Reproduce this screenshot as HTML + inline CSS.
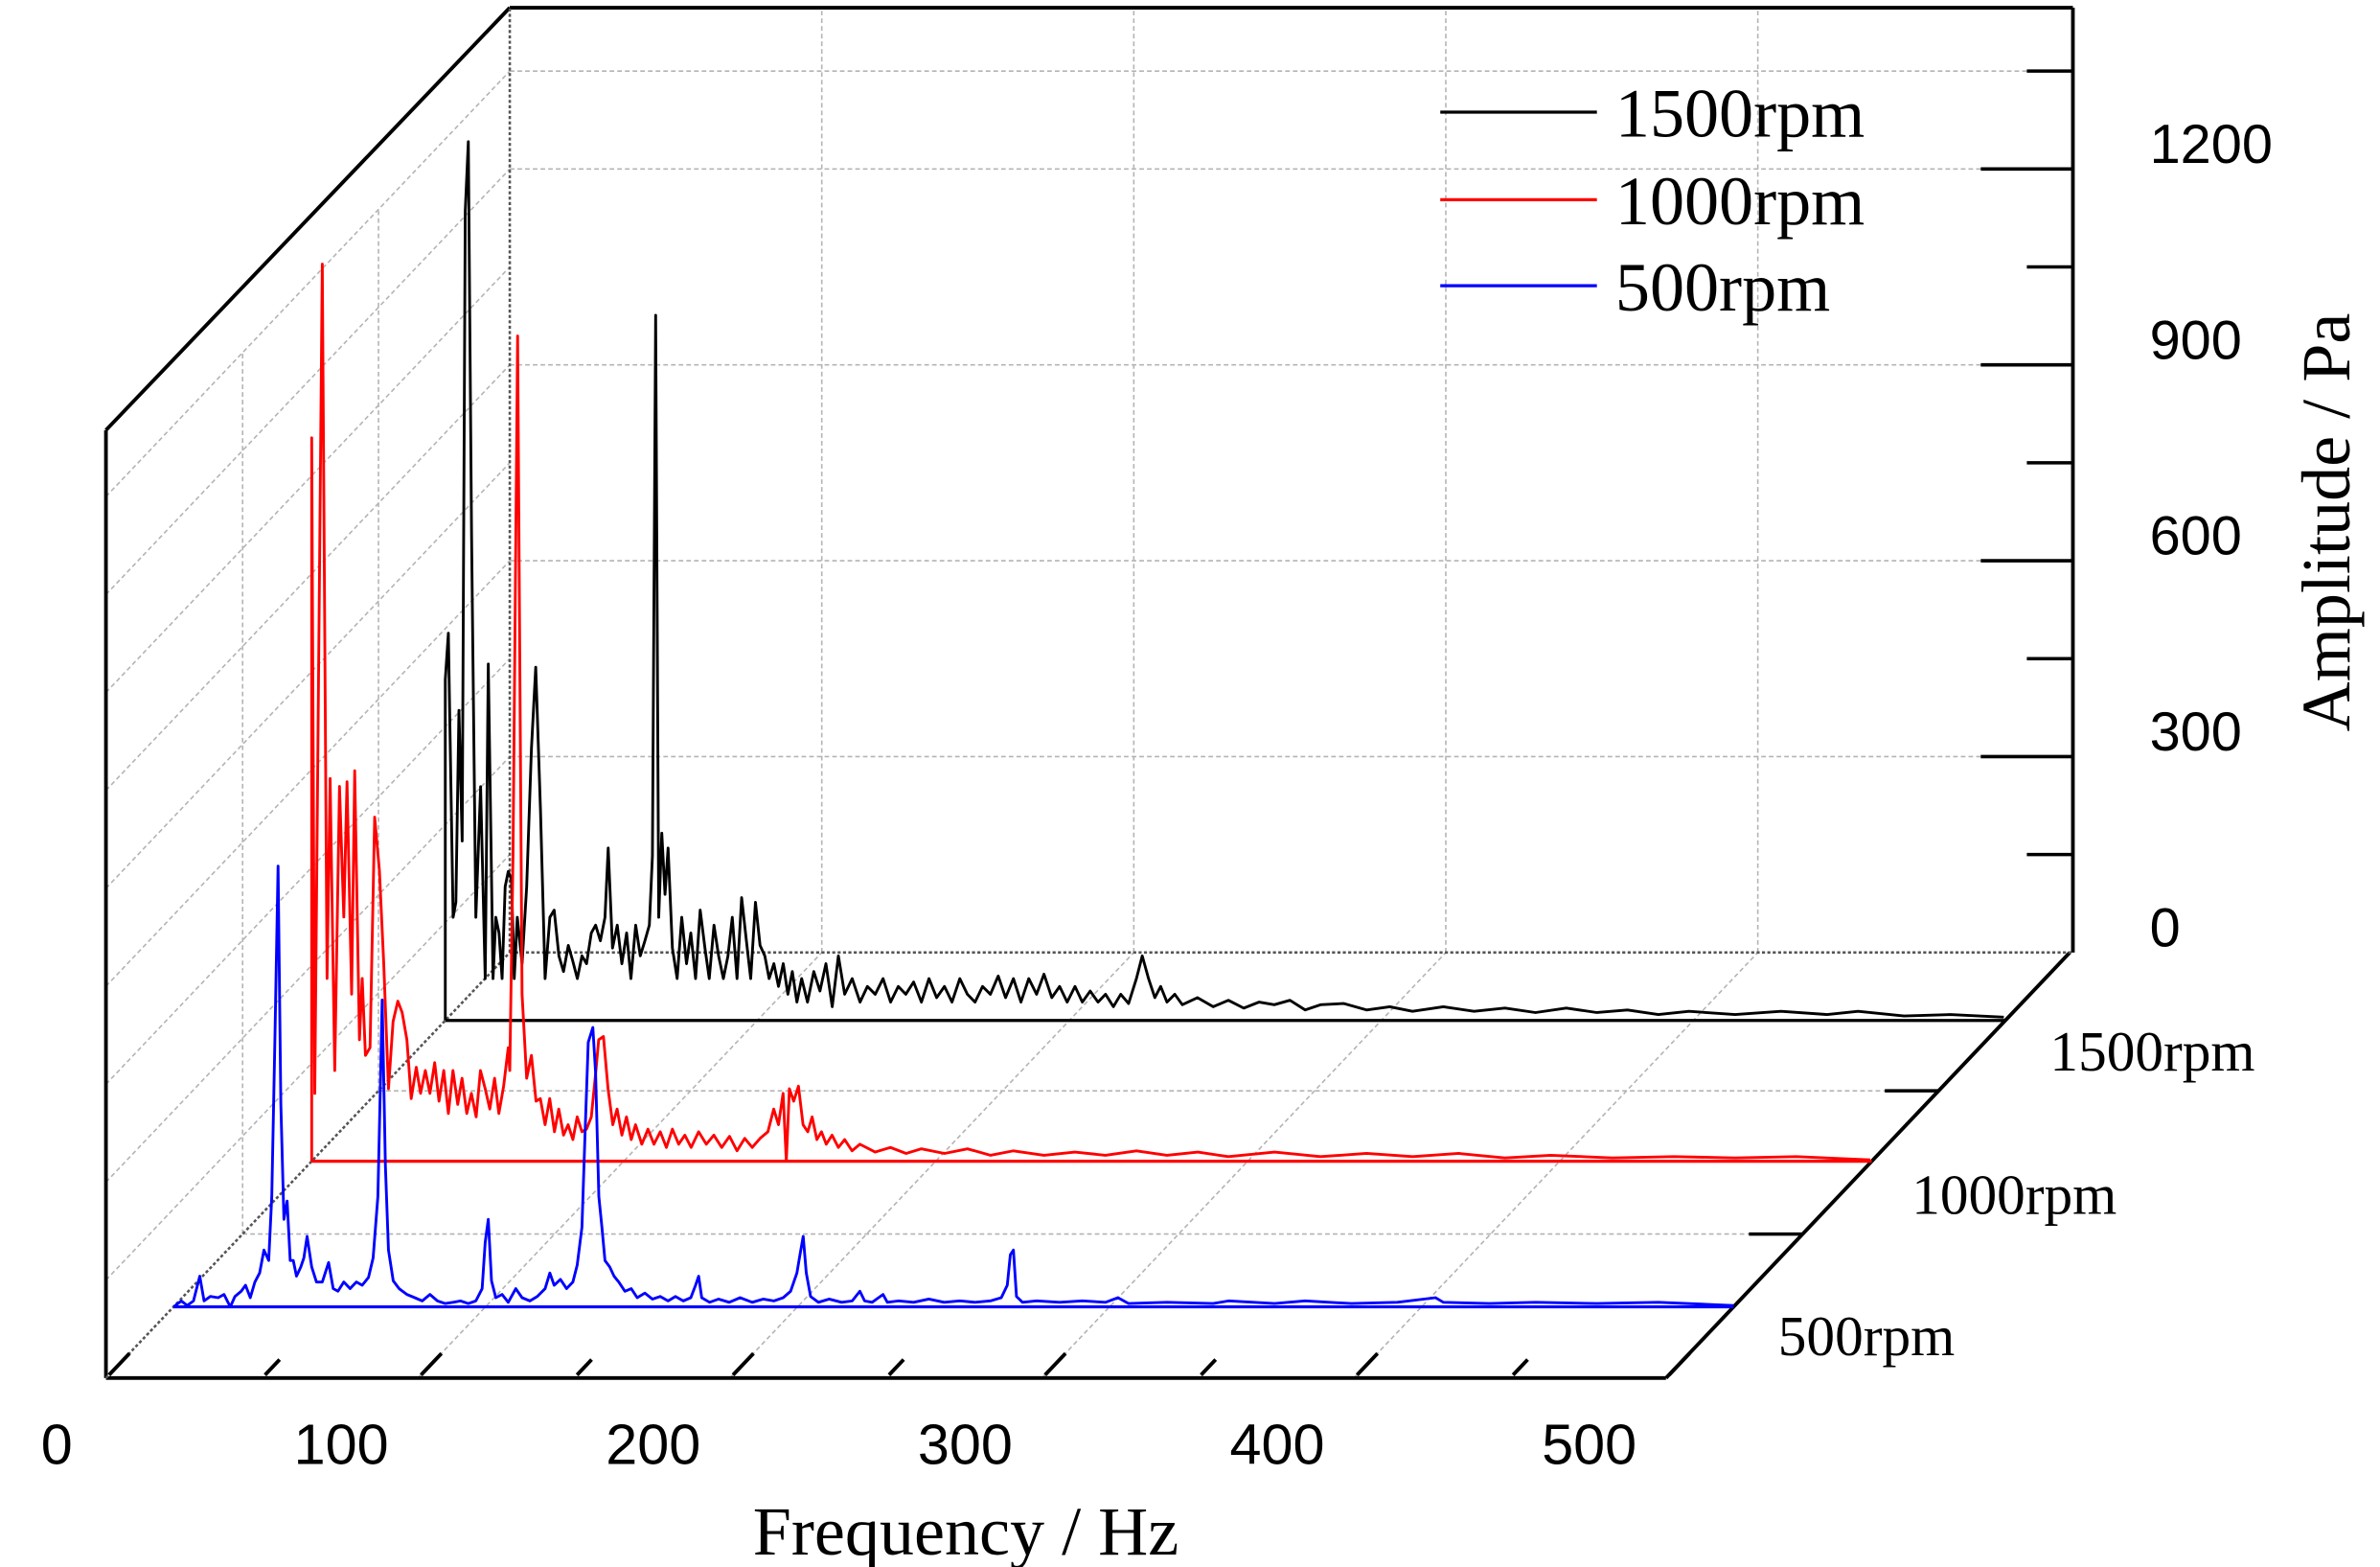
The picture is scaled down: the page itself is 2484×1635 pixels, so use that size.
<!DOCTYPE html>
<html><head><meta charset="utf-8"><style>
html,body{margin:0;padding:0;background:#fff;}
svg{display:block;}
.serif{font-family:"Liberation Serif",serif;}
.sans{font-family:"Liberation Sans",sans-serif;}
</style></head><body>
<svg id="chart" width="2484" height="1635" viewBox="0 0 1550 1020" preserveAspectRatio="none" xmlns="http://www.w3.org/2000/svg">
<g id="grid"></g>
<g id="frame"></g>
<g id="series"></g>
<g id="labels"></g>
<g>
  <line x1="938" y1="73" x2="1040" y2="73" stroke="#000" stroke-width="2"/>
  <text class="serif" x="1052" y="89" font-size="45">1500rpm</text>
  <line x1="938" y1="130" x2="1040" y2="130" stroke="#f00" stroke-width="2"/>
  <text class="serif" x="1052" y="146" font-size="45">1000rpm</text>
  <line x1="938" y1="186" x2="1040" y2="186" stroke="#00f" stroke-width="2"/>
  <text class="serif" x="1052" y="202" font-size="45">500rpm</text>
</g>
<text class="serif" x="629" y="1012" font-size="45" text-anchor="middle">Frequency / Hz</text>
<text class="serif" transform="translate(1530,340) rotate(-90)" font-size="45" text-anchor="middle">Amplitude / Pa</text>
</svg>
<script>
// ---- data ----
const xTickLabels = ["0","100","200","300","400","500"];
const yTickLabels = ["0","300","600","900","1200"];
const yTickValues = [0,300,600,900,1200];
const depthLabels = ["500rpm","1000rpm","1500rpm"];
const seriesColors = ["#00f","#f00","#000"];

const freq500 = [0,0,2.5,4.4,6.4,8.4,9.8,11.8,14.3,16.2,18.2,19.7,21.7,23.1,24.6,26.1,27.6,29.0,30.5,31.5,32.5,33.5,34.4,35.4,36.4,37.4,38.4,39.4,40.8,41.8,42.8,44.3,45.8,47.7,49.7,51.2,52.7,54.6,56.6,58.6,60.5,62.5,64.0,65.5,66.4,66.9,67.9,68.9,70.4,72.3,74.8,77.3,79.7,82.2,84.6,87.1,89.6,92.0,94.5,96.9,98.9,99.9,100.9,101.9,103.3,105.3,107.3,109.7,111.7,114.2,116.6,119.1,120.6,122.0,124.0,126.0,128.0,129.4,130.9,131.9,132.9,134.4,135.3,136.3,137.3,138.3,139.8,141.2,142.7,144.7,146.7,148.6,151.1,153.5,156.0,158.5,160.9,163.4,165.8,167.3,168.3,169.3,171.8,174.7,178.1,181.6,185.5,189.0,192.4,195.4,197.8,199.8,200.8,201.8,202.8,204.2,206.7,210.1,214.1,217.5,220.0,221.5,223.9,227.4,228.8,232.3,237.2,242.1,247.0,252.0,256.9,261.8,265.3,267.2,268.2,269.2,270.2,272.1,276.6,284.0,291.3,298.7,302.7,306.1,318.4,333.2,338.1,352.9,362.7,377.5,392.2,404.5,407.0,421.8,436.5,456.2,475.9,500];
const amp500 = [0,0,9,2,9,47,9,16,14,19,0,16,24,33,14,38,52,87,71,169,405,675,311,134,162,71,71,47,61,75,108,61,38,38,68,28,24,38,28,38,33,45,75,169,358,470,216,87,40,28,19,14,9,19,9,5,7,9,5,9,28,99,134,40,14,19,7,28,14,9,16,28,52,33,42,28,38,64,122,264,405,428,358,169,122,71,61,47,38,24,28,14,21,12,16,9,16,9,14,33,47,14,7,12,7,14,7,12,9,14,24,52,80,108,52,16,7,12,7,9,24,9,7,19,7,9,7,12,7,9,7,9,14,33,80,87,16,7,9,7,9,7,14,5,7,5,9,5,9,5,7,14,7,5,7,5,7,2];

const freq1000 = [0,0,1.0,3.4,4.9,5.9,7.4,8.9,10.3,11.3,12.8,13.8,15.3,16.2,17.2,18.7,20.2,21.7,23.1,24.6,26.1,27.6,29.0,30.5,31.9,33.5,34.9,36.4,37.9,39.4,40.8,42.3,43.8,45.3,46.8,48.2,49.7,51.2,52.7,54.1,55.6,57.1,58.6,60.0,61.5,63.0,63.5,64.5,66.0,67.4,68.9,70.4,71.9,73.3,74.8,76.3,77.8,79.2,80.7,82.2,83.7,85.1,86.6,88.1,89.6,91.1,92.0,93.5,95.0,96.5,97.9,99.4,100.9,102.4,103.8,105.8,107.8,109.7,111.7,113.7,115.6,117.6,119.6,121.6,124.0,126.5,128.9,131.4,133.9,136.3,138.8,141.2,143.7,146.2,148.1,149.6,151.1,152.1,153.1,154.5,156.0,157.5,159.0,160.4,161.9,163.4,164.9,166.8,168.8,170.8,173.2,175.7,180.6,185.5,190.5,195.4,202.8,210.2,217.5,224.9,234.7,244.6,254.4,264.3,274.1,284.0,293.8,308.6,323.3,338.1,352.9,367.6,382.4,397.1,416.8,436.5,456.2,475.9,499.5];
const amp1000 = [0,1108,104,1374,280,586,139,574,374,581,256,598,186,280,162,174,527,445,304,111,214,245,228,186,96,144,104,139,104,151,92,139,73,139,87,127,73,104,68,139,111,80,127,73,115,174,139,468,1264,256,127,162,92,96,56,96,45,80,40,56,33,68,45,49,68,139,186,191,111,56,80,40,68,33,56,26,49,26,45,21,49,26,40,21,45,26,40,21,38,16,35,21,35,45,80,56,104,0,111,92,115,56,45,68,33,45,26,40,21,33,16,26,14,21,12,19,12,19,9,16,9,14,9,16,9,14,7,14,7,12,7,12,5,9,5,7,5,7,2];

const freq1500 = [0,0,1.0,2.5,3.4,4.4,5.4,6.4,7.4,8.4,9.8,11.3,12.8,13.8,15.3,16.2,17.2,18.2,19.2,20.2,21.2,22.1,23.1,24.6,26.1,27.6,29.0,30.5,32.0,33.5,34.9,36.4,37.9,39.4,40.8,42.3,43.8,45.3,46.8,48.2,49.7,51.2,52.2,53.6,55.1,56.6,58.1,59.5,61.0,62.5,64.0,65.4,66.4,67.4,68.4,69.4,70.4,71.4,72.8,74.3,75.8,77.3,78.7,80.2,81.7,83.2,84.6,86.1,87.6,89.1,90.6,92.0,93.5,95.0,96.5,97.9,99.4,100.9,102.4,103.8,105.3,106.8,108.3,109.8,111.2,112.7,114.2,116.1,118.1,120.1,122.0,124.0,126.0,128.0,130.4,132.9,135.3,137.8,140.3,142.7,145.2,147.6,150.1,152.6,155.0,157.5,160.0,162.4,164.9,167.3,169.8,172.2,174.7,177.2,179.6,182.1,184.5,187.0,189.5,191.9,194.4,196.9,199.3,201.8,204.2,206.7,209.2,211.6,214.1,216.5,219.0,221.5,223.4,225.4,227.4,229.3,231.3,233.8,236.2,241.1,246.1,251.0,255.9,260.8,265.7,270.7,275.6,280.5,287.9,295.3,302.7,310.0,319.9,329.7,339.6,349.4,359.3,369.1,378.9,388.8,398.6,413.4,428.1,442.9,452.8,467.5,482.3,499.5];
const amp1500 = [0,522,593,158,181,475,275,1240,1346,746,158,358,64,546,64,158,134,64,205,228,216,64,158,87,205,416,541,322,64,158,169,99,75,115,92,64,99,87,134,146,122,158,264,111,146,87,134,64,146,99,122,146,252,1080,158,287,193,264,111,64,158,87,134,64,169,111,64,146,99,64,99,158,64,188,122,64,181,115,99,64,87,52,87,40,75,28,64,28,75,45,87,21,99,40,64,28,52,40,64,28,52,40,59,28,64,35,52,28,64,40,28,52,40,68,35,64,28,64,40,71,35,52,28,52,28,45,28,40,21,40,26,64,99,64,35,52,28,40,24,35,21,31,19,28,24,31,16,24,26,16,21,14,21,14,19,12,19,12,16,9,14,9,14,9,14,7,9,5];

// ---- geometry ----
const FX = 69, FY = 897;
const DX = 263, DY = -277;
const PX_PER_HZ = 1016/500;
const PX_PER_PA = 127.5/300;
const seriesDepth = [44/263, 134/263, 221/263];
function px(f, d){ return FX + f*PX_PER_HZ + d*DX; }
function py(a, d){ return FY + d*DY - a*PX_PER_PA; }

const NS = "http://www.w3.org/2000/svg";
function mk(parent, tag, attrs){
  const el = document.createElementNS(NS, tag);
  for (const k in attrs) el.setAttribute(k, attrs[k]);
  parent.appendChild(el);
  return el;
}
const grid = document.getElementById('grid');
const frame = document.getElementById('frame');
const seriesG = document.getElementById('series');
const labels = document.getElementById('labels');
const gstyle = {stroke:"#b4b4b4","stroke-width":1,"stroke-dasharray":"3,2",fill:"none"};

[100,200,300,400].forEach(f=>{
  const l = mk(grid,'line',Object.assign({x1:px(f,1),y1:py(0,1),x2:px(f,1),y2:5},gstyle));
  
  
  const l2 = mk(grid,'line',Object.assign({x1:px(f,0),y1:py(0,0),x2:px(f,1),y2:py(0,1)},gstyle));
  
  
});
yTickValues.slice(1).concat([1350]).forEach(a=>{
  const l = mk(grid,'line',Object.assign({x1:px(0,1),y1:py(a,1),x2:1350,y2:py(a,1)},gstyle));
  
  
});
[150,300,450,600,750,900,1050,1200,1350].forEach(a=>{
  const l = mk(grid,'line',Object.assign({x1:px(0,0),y1:py(a,0),x2:px(0,1),y2:py(a,1)},gstyle));
  
  
});
[ (seriesDepth[0]+seriesDepth[1])/2, (seriesDepth[1]+seriesDepth[2])/2 ].forEach(d=>{
  const l = mk(grid,'line',Object.assign({x1:px(0,d),y1:py(0,d),x2:px(500,d),y2:py(0,d)},gstyle));
  
  
  const l2 = mk(grid,'line',Object.assign({x1:px(0,d),y1:py(0,d),x2:px(0,d),y2:py(1350,d)},gstyle));
  
  
  const t = mk(frame,'line',{x1:px(500,d)-35,y1:py(0,d),x2:px(500,d),y2:py(0,d),stroke:"#000","stroke-width":2.2});
  
  
});

const blk = {stroke:"#000","stroke-width":2.4,fill:"none"};
const topY = 5;
[
  [px(0,0),py(0,0),px(500,0),py(0,0),'floor-front-edge'],
  [px(500,0),py(0,0),px(500,1),py(0,1),'floor-right-edge'],
  [px(0,0),py(0,0),px(0,0),280,'side-wall-front-edge'],
  [px(0,0),280,px(0,1),topY,'side-wall-top-edge'],
  [px(0,1),topY,1350,topY,'back-wall-top-edge'],
  [1350,topY,1350,py(0,1),'y-axis-line']
].forEach(s=>{
  const l = mk(frame,'line',Object.assign({x1:s[0],y1:s[1],x2:s[2],y2:s[3]},blk));
  
  
});
const dk = {stroke:"#555","stroke-width":1.6,"stroke-dasharray":"2,1.5",fill:"none"};
[
  [px(0,0),py(0,0),px(0,1),py(0,1),'floor-left-edge'],
  [px(0,1),py(0,1),1350,py(0,1),'back-wall-bottom-edge'],
  [px(0,1),py(0,1),px(0,1),topY,'back-wall-left-edge']
].forEach(s=>{
  const l = mk(frame,'line',Object.assign({x1:s[0],y1:s[1],x2:s[2],y2:s[3]},dk));
  
  
});

for (let a=150; a<=1350; a+=150){
  const major = (a%300===0);
  const y = py(a,1);
  const t = mk(frame,'line',{x1:major?1290:1320,y1:y,x2:1350,y2:y,stroke:"#000","stroke-width":2.2});
  
  
}
yTickLabels.forEach((s,i)=>{
  const t = mk(labels,'text',{x:1400,y:py(yTickValues[i],1)-4,"font-size":36,class:"sans"});
  t.textContent = s;
  
  
});
for (let f=0; f<=500; f+=50){
  const x = px(f,0);
  const len = (f%100===0)?14:10;
  const t = mk(frame,'line',{x1:x+2,y1:FY-2,x2:x+2+len*0.95,y2:FY-2-len,stroke:"#000","stroke-width":2.4});
  
  
}
xTickLabels.forEach((s,i)=>{
  const f = Number(s);
  const x = (i===0)? 37 : px(f,0)-50;
  const t = mk(labels,'text',{x:x,y:953,"font-size":37,class:"sans","text-anchor":"middle"});
  t.textContent = s;
  
  
});
const depthLabelPos = [[1158,882],[1245,790],[1335,697]];
depthLabels.forEach((s,i)=>{
  const t = mk(labels,'text',{x:depthLabelPos[i][0],y:depthLabelPos[i][1],"font-size":37,class:"serif"});
  t.textContent = s;
  
  
});

const allF = [freq500,freq1000,freq1500];
const allA = [amp500,amp1000,amp1500];
const names = ['series-500rpm','series-1000rpm','series-1500rpm'];
[2,1,0].forEach(i=>{
  const d = seriesDepth[i];
  const fs = allF[i], as = allA[i];
  let dstr = '';
  for (let k=0;k<fs.length;k++){
    dstr += (k?'L':'M') + px(fs[k],d).toFixed(1) + ' ' + py(as[k],d).toFixed(1);
  }
  const base = mk(seriesG,'line',{x1:px(0,d),y1:py(0,d),x2:px(500,d),y2:py(0,d),stroke:seriesColors[i],"stroke-width":2});
  
  
  const p = mk(seriesG,'path',{d:dstr,stroke:seriesColors[i],"stroke-width":1.8,fill:"none","stroke-linejoin":"round"});
  
  
});
</script>
</body></html>
